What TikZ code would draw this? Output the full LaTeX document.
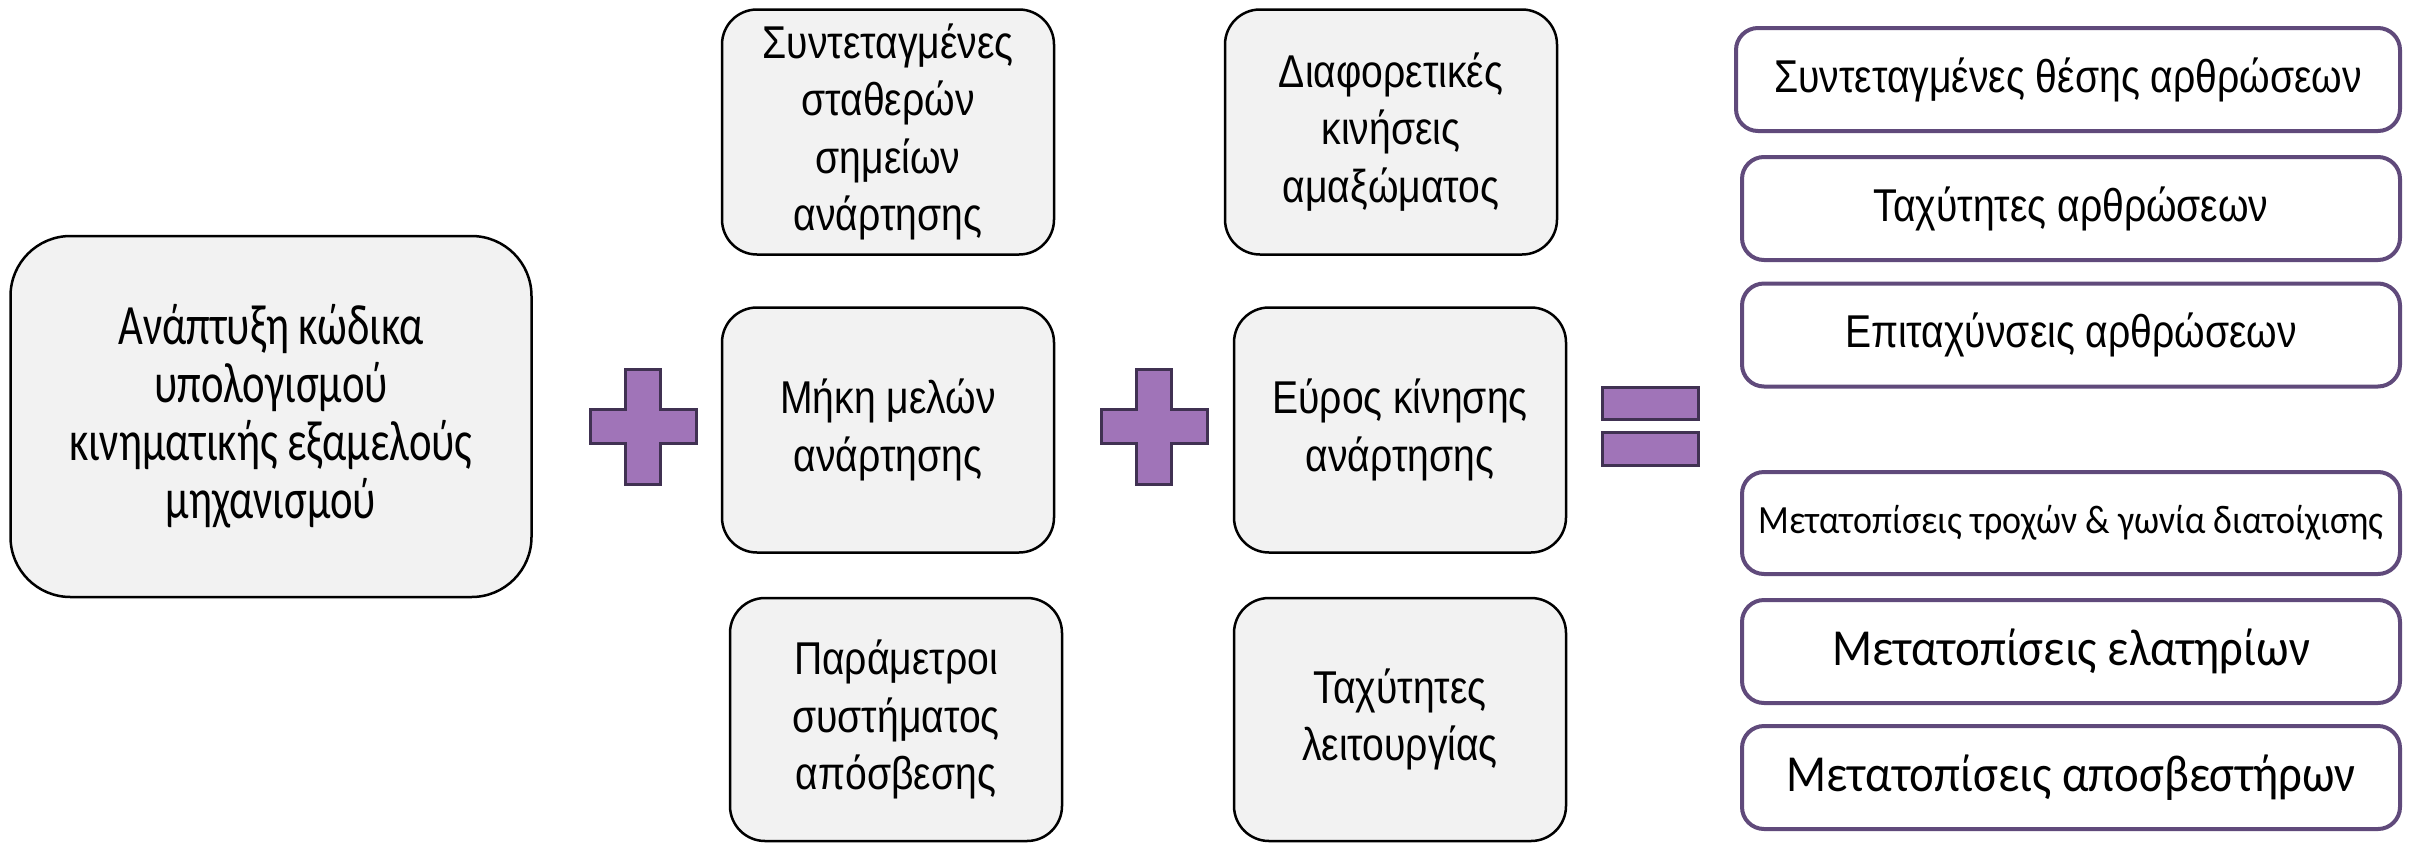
\documentclass[tikz,border=0pt]{standalone}
\usepackage{fontspec}
\setmainfont[FakeStretch=0.85]{Liberation Sans}
\newfontfamily\calA[FakeStretch=0.75]{Carlito}
\newfontfamily\calB[FakeStretch=0.9]{Carlito}
\definecolor{boxgray}{HTML}{F2F2F2}
\definecolor{outpurple}{HTML}{604A7B}
\definecolor{plusfill}{HTML}{A074B8}
\definecolor{plusedge}{HTML}{403152}
\begin{document}
\begin{tikzpicture}[x=1pt,y=-1pt,
  inbox/.style={draw=black, line width=2.5pt, fill=boxgray, rounded corners=35pt,
    align=center, inner sep=0pt, minimum width=332pt, minimum height=245pt,
    font=\fontsize{46}{57.5}\selectfont},
  outbox/.style={draw=outpurple, line width=4pt, fill=white, rounded corners=22pt,
    align=center, inner sep=0pt, minimum width=658pt, minimum height=103pt,
    font=\fontsize{46}{52}\selectfont},
  calbox/.style={outbox, font=\calB\fontsize{52}{58}\selectfont},
  opshape/.style={draw=plusedge, line width=3pt, fill=plusfill},
  plussign/.pic={
    \path[opshape] (-17.5,-57.5) -- (17.5,-57.5) -- (17.5,-17) -- (53,-17) -- (53,17)
      -- (17.5,17) -- (17.5,57.5) -- (-17.5,57.5) -- (-17.5,17) -- (-53,17)
      -- (-53,-17) -- (-17.5,-17) -- cycle;
  }]
\useasboundingbox (0,0) rectangle (2410,844);

% left box
\node[inbox, minimum width=521pt, minimum height=361pt, rounded corners=60pt,
  font=\calA\fontsize{57}{58}\selectfont] (code) at (271,416.5)
  {Ανάπτυξη κώδικα\\υπολογισμού\\κινηματικής εξαμελούς\\μηχανισμού};

% plus signs
\pic at (643,426.5) {plussign};
\pic at (1154,426.5) {plussign};

% column 2
\node[inbox] (c2t) at (888,132) {Συντεταγμένες\\σταθερών\\σημείων\\ανάρτησης};
\node[inbox] (c2m) at (888,430) {Μήκη μελών\\ανάρτησης};
\node[inbox, minimum height=243pt] (c2b) at (896,719.5) {Παράμετροι\\συστήματος\\απόσβεσης};

% column 3
\node[inbox] (c3t) at (1391,132) {Διαφορετικές\\κινήσεις\\αμαξώματος};
\node[inbox] (c3m) at (1400,430) {Εύρος κίνησης\\ανάρτησης};
\node[inbox, minimum height=243pt] (c3b) at (1400,719.5) {Ταχύτητες\\λειτουργίας};

% equals sign
\path[opshape] (1602,387) rectangle (1698,419);
\path[opshape] (1602,432) rectangle (1698,465);

% outputs
\node[outbox, minimum width=664pt] (o1) at (2068,79.5) {Συντεταγμένες θέσης αρθρώσεων};
\node[outbox] (o2) at (2071,208.5) {Ταχύτητες αρθρώσεων};
\node[outbox] (o3) at (2071,335) {Επιταχύνσεις αρθρώσεων};
\node[calbox, minimum height=102pt, font=\calB\fontsize{40}{46}\selectfont] (o4) at (2071,523) {Μετατοπίσεις τροχών \& γωνία διατοίχισης};
\node[calbox] (o5) at (2071,651.5) {Μετατοπίσεις ελατηρίων};
\node[calbox] (o6) at (2071,777.5) {Μετατοπίσεις αποσβεστήρων};
\end{tikzpicture}
\end{document}
